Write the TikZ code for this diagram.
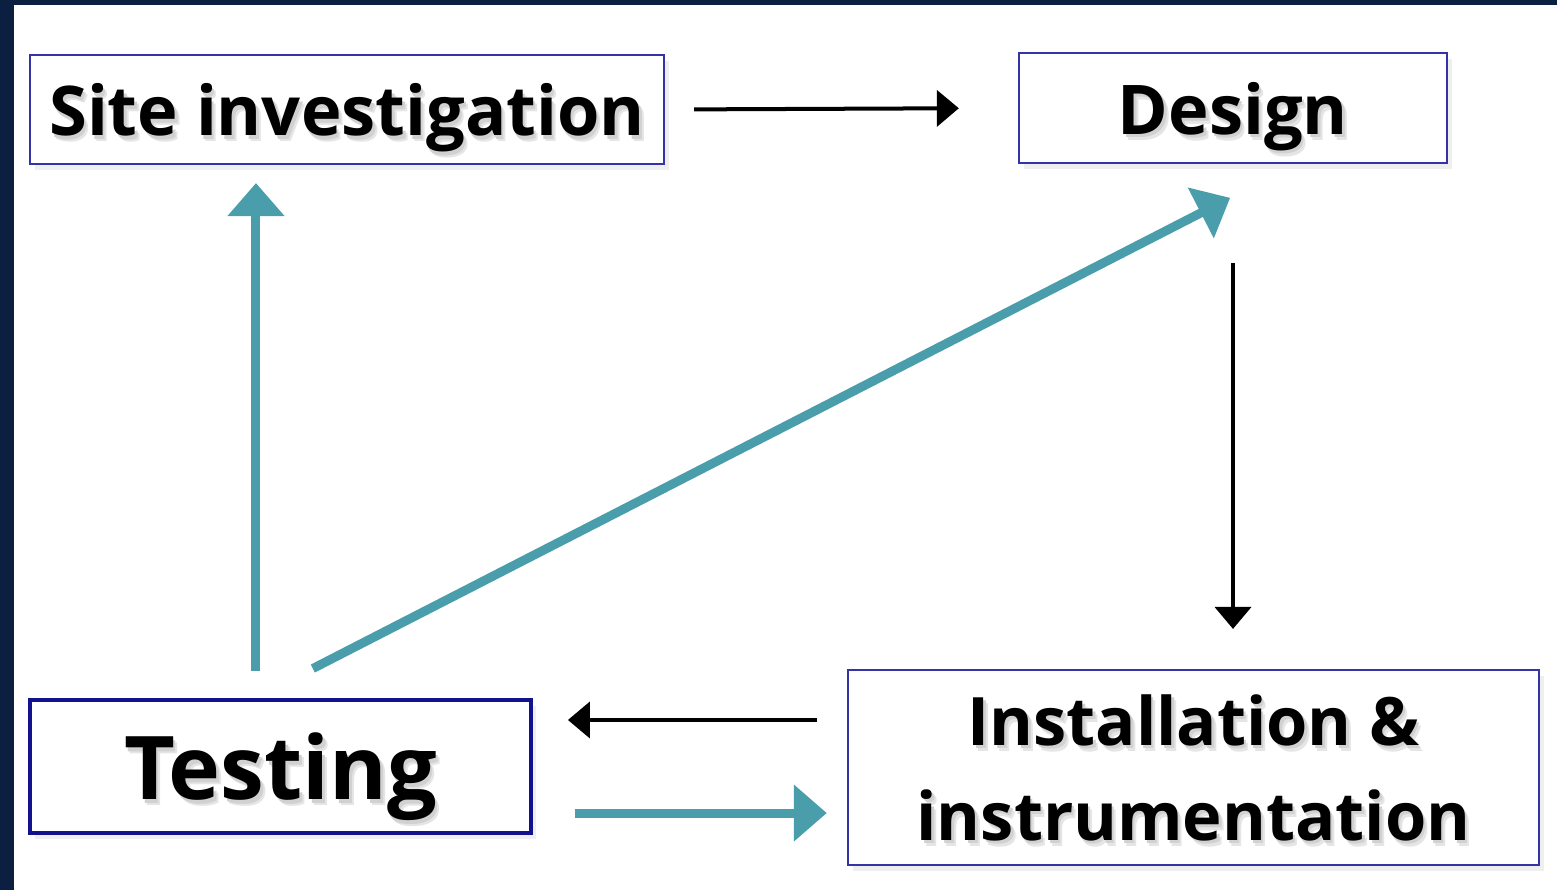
\documentclass[tikz,border=0pt]{standalone}
\usepackage{fontspec}
\setmainfont{Open Sans}
\usepackage{xcolor}
\usepackage{tikz}
\usetikzlibrary{positioning,arrows.meta,shadows}
\definecolor{framenavy}{HTML}{0B1F40}
\definecolor{boxblue}{HTML}{3434A8}
\definecolor{boxnavy}{HTML}{12128E}
\definecolor{flowteal}{HTML}{4A9DAA}
% soft text shadow: two faint copies behind the word
\newcommand{\shd}[1]{%
  \makebox[0pt][l]{\hspace{0.45mm}\raisebox{-0.6mm}{\textcolor{black!10}{#1}}}%
  \makebox[0pt][l]{\hspace{0.25mm}\raisebox{-0.35mm}{\textcolor{black!18}{#1}}}#1}

\begin{document}
\begin{tikzpicture}[
  x=0.01cm, y=-0.01cm,
  stage/.style={draw=boxblue, line width=0.2mm, fill=white, align=center,
                inner sep=0pt, text depth=0pt, font=\bfseries,
                drop shadow={shadow xshift=0.5mm, shadow yshift=-0.6mm, fill=black!12}},
  stageT/.style={stage, draw=boxnavy, line width=0.35mm},
  arB/.style={-{Triangle[length=2.2mm,width=3.6mm]}, draw=black, line width=0.4mm},
  arT/.style={-{Triangle[length=3.3mm,width=5.5mm]}, draw=flowteal, line width=0.9mm}
]
\useasboundingbox (0,0) rectangle (1557,890);

% ==== frame
\fill[framenavy] (0,0) rectangle (1557,5);
\fill[framenavy] (0,0) rectangle (14,890);

% ==== stages
\node[stage, minimum width=6.34cm, minimum height=1.09cm] (site) at (347,109.5)
     {\fontsize{19.5}{24}\selectfont\shd{Site investigation}};
\node[stage, minimum width=4.28cm, minimum height=1.10cm] (design) at (1233,108)
     {\fontsize{19.5}{24}\selectfont\shd{Design}};
\node[stageT, minimum width=5.01cm, minimum height=1.33cm] (test) at (280.5,766.5)
     {\fontsize{25}{30}\selectfont\shd{Testing}};
\node[stage, minimum width=6.91cm, minimum height=1.95cm] (inst) at (1193.5,767.5)
     {\fontsize{19}{25}\selectfont\shd{Installation \&}\\[3.4mm]
      \fontsize{19}{25}\selectfont\shd{instrumentation}};

% ==== forward path (black)
\draw[arB, shorten <=2.9mm, shorten >=5.9mm] (site.east) -- (design.west);
\draw[arB, shorten <=9.9mm, shorten >=4mm] (design.south) -- (design.south |- inst.north);
\draw[arB, shorten <=3mm, shorten >=3.5mm]
     ([yshift=4.75mm]inst.west) -- ([yshift=4.75mm]inst.west -| test.east);

% ==== feedback from testing (teal)
\draw[arT, shorten <=2.7mm, shorten >=1.8mm]
     ([xshift=-2.45mm]test.north) -- ([xshift=-2.45mm]test.north |- site.south);
\draw[arT, shorten <=6.5mm, shorten >=7.4mm]
     ([xshift=-2.55mm]test.north) -- ([xshift=6.3mm]design.south);
\draw[arT, shorten <=4.2mm, shorten >=2mm]
     ([yshift=-4.65mm]test.east) -- ([yshift=-4.65mm]test.east -| inst.west);

\end{tikzpicture}
\end{document}
